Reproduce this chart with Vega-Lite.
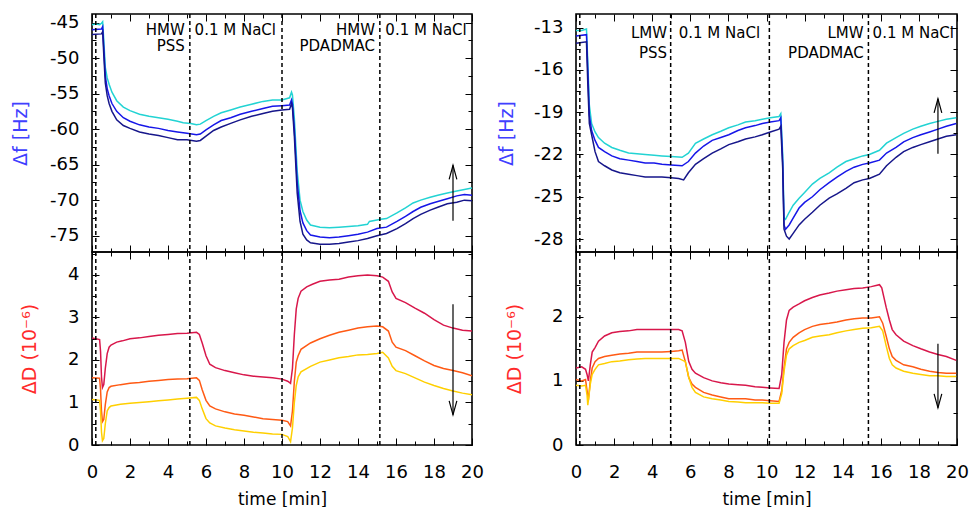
{
"$schema": "https://vega.github.io/schema/vega-lite/v6.json",
"background": "white",
"padding": {"left": 10, "top": 12, "right": 4, "bottom": 4},
"config": {
 "view": {"stroke": "black", "strokeWidth": 1.6},
 "font": "DejaVu Sans",
 "axis": {"domain": false, "grid": false, "tickColor": "black", "tickWidth": 1, "labelFont": "DejaVu Sans", "labelFontSize": 18, "labelColor": "black", "titleFont": "DejaVu Sans", "titleFontSize": 19, "titleFontWeight": "normal", "labelFlush": false, "labelOverlap": false}
},
"datasets": {
 "curves": [
{"p":"Hf","s":"f1","t":0,"v":-45.3},{"p":"Hf","s":"f1","t":0.2,"v":-45.2},{"p":"Hf","s":"f1","t":0.4,"v":-45.3},{"p":"Hf","s":"f1","t":0.5,"v":-45.1},{"p":"Hf","s":"f1","t":0.56,"v":-44.9},{"p":"Hf","s":"f1","t":0.62,"v":-47.5},{"p":"Hf","s":"f1","t":0.7,"v":-51.3},{"p":"Hf","s":"f1","t":0.8,"v":-52.8},{"p":"Hf","s":"f1","t":0.9,"v":-53.7},{"p":"Hf","s":"f1","t":1.05,"v":-54.8},{"p":"Hf","s":"f1","t":1.3,"v":-56.0},{"p":"Hf","s":"f1","t":1.65,"v":-56.9},{"p":"Hf","s":"f1","t":2.0,"v":-57.4},{"p":"Hf","s":"f1","t":2.5,"v":-57.9},{"p":"Hf","s":"f1","t":3.0,"v":-58.2},{"p":"Hf","s":"f1","t":3.5,"v":-58.4},{"p":"Hf","s":"f1","t":4.0,"v":-58.6},{"p":"Hf","s":"f1","t":4.5,"v":-58.9},{"p":"Hf","s":"f1","t":4.8,"v":-59.1},{"p":"Hf","s":"f1","t":5.2,"v":-59.2},{"p":"Hf","s":"f1","t":5.5,"v":-59.4},{"p":"Hf","s":"f1","t":5.7,"v":-59.3},{"p":"Hf","s":"f1","t":6.0,"v":-58.8},{"p":"Hf","s":"f1","t":6.4,"v":-58.2},{"p":"Hf","s":"f1","t":6.8,"v":-57.7},{"p":"Hf","s":"f1","t":7.3,"v":-57.3},{"p":"Hf","s":"f1","t":7.8,"v":-56.9},{"p":"Hf","s":"f1","t":8.4,"v":-56.5},{"p":"Hf","s":"f1","t":9.0,"v":-56.1},{"p":"Hf","s":"f1","t":9.5,"v":-55.9},{"p":"Hf","s":"f1","t":10.0,"v":-55.9},{"p":"Hf","s":"f1","t":10.4,"v":-55.6},{"p":"Hf","s":"f1","t":10.5,"v":-54.8},{"p":"Hf","s":"f1","t":10.55,"v":-55.2},{"p":"Hf","s":"f1","t":10.65,"v":-58.5},{"p":"Hf","s":"f1","t":10.8,"v":-65.9},{"p":"Hf","s":"f1","t":10.95,"v":-70.0},{"p":"Hf","s":"f1","t":11.1,"v":-71.6},{"p":"Hf","s":"f1","t":11.3,"v":-72.8},{"p":"Hf","s":"f1","t":11.5,"v":-73.5},{"p":"Hf","s":"f1","t":12.0,"v":-73.8},{"p":"Hf","s":"f1","t":12.5,"v":-73.9},{"p":"Hf","s":"f1","t":13.0,"v":-73.8},{"p":"Hf","s":"f1","t":13.5,"v":-73.7},{"p":"Hf","s":"f1","t":14.0,"v":-73.6},{"p":"Hf","s":"f1","t":14.5,"v":-73.4},{"p":"Hf","s":"f1","t":14.6,"v":-73.0},{"p":"Hf","s":"f1","t":15.2,"v":-72.7},{"p":"Hf","s":"f1","t":15.5,"v":-72.6},{"p":"Hf","s":"f1","t":16.05,"v":-71.8},{"p":"Hf","s":"f1","t":16.5,"v":-71.1},{"p":"Hf","s":"f1","t":16.9,"v":-70.4},{"p":"Hf","s":"f1","t":17.3,"v":-70.0},{"p":"Hf","s":"f1","t":17.8,"v":-69.6},{"p":"Hf","s":"f1","t":18.2,"v":-69.3},{"p":"Hf","s":"f1","t":18.7,"v":-69.0},{"p":"Hf","s":"f1","t":19.2,"v":-68.7},{"p":"Hf","s":"f1","t":19.6,"v":-68.5},{"p":"Hf","s":"f1","t":20,"v":-68.3},
{"p":"Hf","s":"f2","t":0,"v":-46.0},{"p":"Hf","s":"f2","t":0.5,"v":-45.9},{"p":"Hf","s":"f2","t":0.56,"v":-45.6},{"p":"Hf","s":"f2","t":0.62,"v":-48.5},{"p":"Hf","s":"f2","t":0.7,"v":-52.5},{"p":"Hf","s":"f2","t":0.8,"v":-54.3},{"p":"Hf","s":"f2","t":0.9,"v":-55.3},{"p":"Hf","s":"f2","t":1.05,"v":-56.4},{"p":"Hf","s":"f2","t":1.3,"v":-57.5},{"p":"Hf","s":"f2","t":1.65,"v":-58.4},{"p":"Hf","s":"f2","t":2.0,"v":-58.9},{"p":"Hf","s":"f2","t":2.5,"v":-59.4},{"p":"Hf","s":"f2","t":3.0,"v":-59.7},{"p":"Hf","s":"f2","t":3.5,"v":-59.9},{"p":"Hf","s":"f2","t":4.0,"v":-60.2},{"p":"Hf","s":"f2","t":4.5,"v":-60.4},{"p":"Hf","s":"f2","t":5.0,"v":-60.6},{"p":"Hf","s":"f2","t":5.5,"v":-60.8},{"p":"Hf","s":"f2","t":5.7,"v":-60.7},{"p":"Hf","s":"f2","t":6.0,"v":-60.1},{"p":"Hf","s":"f2","t":6.4,"v":-59.4},{"p":"Hf","s":"f2","t":6.8,"v":-58.8},{"p":"Hf","s":"f2","t":7.3,"v":-58.4},{"p":"Hf","s":"f2","t":7.8,"v":-57.9},{"p":"Hf","s":"f2","t":8.4,"v":-57.5},{"p":"Hf","s":"f2","t":9.0,"v":-57.1},{"p":"Hf","s":"f2","t":9.5,"v":-56.8},{"p":"Hf","s":"f2","t":10.0,"v":-56.7},{"p":"Hf","s":"f2","t":10.4,"v":-56.6},{"p":"Hf","s":"f2","t":10.5,"v":-55.9},{"p":"Hf","s":"f2","t":10.55,"v":-56.5},{"p":"Hf","s":"f2","t":10.65,"v":-60.0},{"p":"Hf","s":"f2","t":10.8,"v":-67.5},{"p":"Hf","s":"f2","t":10.95,"v":-71.5},{"p":"Hf","s":"f2","t":11.1,"v":-73.2},{"p":"Hf","s":"f2","t":11.3,"v":-74.3},{"p":"Hf","s":"f2","t":11.5,"v":-74.9},{"p":"Hf","s":"f2","t":12.0,"v":-75.2},{"p":"Hf","s":"f2","t":12.5,"v":-75.3},{"p":"Hf","s":"f2","t":13.0,"v":-75.2},{"p":"Hf","s":"f2","t":13.5,"v":-75.0},{"p":"Hf","s":"f2","t":14.0,"v":-74.8},{"p":"Hf","s":"f2","t":14.5,"v":-74.5},{"p":"Hf","s":"f2","t":15.0,"v":-74.0},{"p":"Hf","s":"f2","t":15.5,"v":-73.8},{"p":"Hf","s":"f2","t":16.05,"v":-73.0},{"p":"Hf","s":"f2","t":16.5,"v":-72.3},{"p":"Hf","s":"f2","t":16.9,"v":-71.6},{"p":"Hf","s":"f2","t":17.3,"v":-71.0},{"p":"Hf","s":"f2","t":17.8,"v":-70.5},{"p":"Hf","s":"f2","t":18.2,"v":-70.2},{"p":"Hf","s":"f2","t":18.7,"v":-69.8},{"p":"Hf","s":"f2","t":19.2,"v":-69.4},{"p":"Hf","s":"f2","t":19.6,"v":-69.2},{"p":"Hf","s":"f2","t":20,"v":-69.3},
{"p":"Hf","s":"f3","t":0,"v":-46.7},{"p":"Hf","s":"f3","t":0.5,"v":-46.6},{"p":"Hf","s":"f3","t":0.56,"v":-46.3},{"p":"Hf","s":"f3","t":0.62,"v":-49.5},{"p":"Hf","s":"f3","t":0.7,"v":-53.5},{"p":"Hf","s":"f3","t":0.8,"v":-55.3},{"p":"Hf","s":"f3","t":0.9,"v":-56.4},{"p":"Hf","s":"f3","t":1.05,"v":-57.5},{"p":"Hf","s":"f3","t":1.3,"v":-58.7},{"p":"Hf","s":"f3","t":1.65,"v":-59.5},{"p":"Hf","s":"f3","t":2.0,"v":-59.9},{"p":"Hf","s":"f3","t":2.5,"v":-60.4},{"p":"Hf","s":"f3","t":3.0,"v":-60.7},{"p":"Hf","s":"f3","t":3.5,"v":-60.9},{"p":"Hf","s":"f3","t":4.0,"v":-61.2},{"p":"Hf","s":"f3","t":4.5,"v":-61.5},{"p":"Hf","s":"f3","t":5.0,"v":-61.5},{"p":"Hf","s":"f3","t":5.5,"v":-61.7},{"p":"Hf","s":"f3","t":5.7,"v":-61.6},{"p":"Hf","s":"f3","t":6.0,"v":-61.0},{"p":"Hf","s":"f3","t":6.4,"v":-60.2},{"p":"Hf","s":"f3","t":6.8,"v":-59.7},{"p":"Hf","s":"f3","t":7.3,"v":-59.2},{"p":"Hf","s":"f3","t":7.8,"v":-58.7},{"p":"Hf","s":"f3","t":8.4,"v":-58.2},{"p":"Hf","s":"f3","t":9.0,"v":-57.8},{"p":"Hf","s":"f3","t":9.5,"v":-57.5},{"p":"Hf","s":"f3","t":10.0,"v":-57.3},{"p":"Hf","s":"f3","t":10.4,"v":-57.2},{"p":"Hf","s":"f3","t":10.5,"v":-56.4},{"p":"Hf","s":"f3","t":10.55,"v":-57.0},{"p":"Hf","s":"f3","t":10.65,"v":-61.0},{"p":"Hf","s":"f3","t":10.8,"v":-69.0},{"p":"Hf","s":"f3","t":10.95,"v":-73.0},{"p":"Hf","s":"f3","t":11.1,"v":-74.8},{"p":"Hf","s":"f3","t":11.3,"v":-75.6},{"p":"Hf","s":"f3","t":11.5,"v":-76.0},{"p":"Hf","s":"f3","t":12.0,"v":-76.2},{"p":"Hf","s":"f3","t":12.5,"v":-76.2},{"p":"Hf","s":"f3","t":13.0,"v":-76.1},{"p":"Hf","s":"f3","t":13.5,"v":-75.9},{"p":"Hf","s":"f3","t":14.0,"v":-75.7},{"p":"Hf","s":"f3","t":14.5,"v":-75.4},{"p":"Hf","s":"f3","t":15.0,"v":-75.0},{"p":"Hf","s":"f3","t":15.5,"v":-74.7},{"p":"Hf","s":"f3","t":16.05,"v":-74.0},{"p":"Hf","s":"f3","t":16.5,"v":-73.3},{"p":"Hf","s":"f3","t":16.9,"v":-72.6},{"p":"Hf","s":"f3","t":17.3,"v":-72.0},{"p":"Hf","s":"f3","t":17.8,"v":-71.4},{"p":"Hf","s":"f3","t":18.2,"v":-71.0},{"p":"Hf","s":"f3","t":18.7,"v":-70.5},{"p":"Hf","s":"f3","t":19.2,"v":-70.3},{"p":"Hf","s":"f3","t":19.6,"v":-70.0},{"p":"Hf","s":"f3","t":20,"v":-70.1},
{"p":"HD","s":"D1","t":0,"v":2.52},{"p":"HD","s":"D1","t":0.2,"v":2.5},{"p":"HD","s":"D1","t":0.4,"v":2.48},{"p":"HD","s":"D1","t":0.45,"v":2.2},{"p":"HD","s":"D1","t":0.5,"v":1.6},{"p":"HD","s":"D1","t":0.55,"v":1.35},{"p":"HD","s":"D1","t":0.62,"v":1.42},{"p":"HD","s":"D1","t":0.7,"v":1.8},{"p":"HD","s":"D1","t":0.8,"v":2.15},{"p":"HD","s":"D1","t":0.9,"v":2.3},{"p":"HD","s":"D1","t":1.0,"v":2.35},{"p":"HD","s":"D1","t":1.3,"v":2.42},{"p":"HD","s":"D1","t":1.6,"v":2.45},{"p":"HD","s":"D1","t":2.0,"v":2.5},{"p":"HD","s":"D1","t":2.5,"v":2.52},{"p":"HD","s":"D1","t":3.0,"v":2.55},{"p":"HD","s":"D1","t":3.5,"v":2.58},{"p":"HD","s":"D1","t":4.0,"v":2.6},{"p":"HD","s":"D1","t":4.5,"v":2.62},{"p":"HD","s":"D1","t":5.0,"v":2.63},{"p":"HD","s":"D1","t":5.5,"v":2.65},{"p":"HD","s":"D1","t":5.65,"v":2.6},{"p":"HD","s":"D1","t":5.8,"v":2.4},{"p":"HD","s":"D1","t":6.0,"v":2.1},{"p":"HD","s":"D1","t":6.2,"v":1.9},{"p":"HD","s":"D1","t":6.5,"v":1.82},{"p":"HD","s":"D1","t":7.0,"v":1.75},{"p":"HD","s":"D1","t":7.5,"v":1.7},{"p":"HD","s":"D1","t":8.0,"v":1.65},{"p":"HD","s":"D1","t":8.5,"v":1.62},{"p":"HD","s":"D1","t":9.0,"v":1.6},{"p":"HD","s":"D1","t":9.5,"v":1.58},{"p":"HD","s":"D1","t":10.0,"v":1.55},{"p":"HD","s":"D1","t":10.3,"v":1.5},{"p":"HD","s":"D1","t":10.45,"v":1.45},{"p":"HD","s":"D1","t":10.55,"v":1.8},{"p":"HD","s":"D1","t":10.65,"v":2.6},{"p":"HD","s":"D1","t":10.75,"v":3.2},{"p":"HD","s":"D1","t":10.85,"v":3.45},{"p":"HD","s":"D1","t":11.0,"v":3.62},{"p":"HD","s":"D1","t":11.3,"v":3.72},{"p":"HD","s":"D1","t":11.6,"v":3.78},{"p":"HD","s":"D1","t":12.0,"v":3.85},{"p":"HD","s":"D1","t":12.5,"v":3.88},{"p":"HD","s":"D1","t":13.0,"v":3.9},{"p":"HD","s":"D1","t":13.5,"v":3.95},{"p":"HD","s":"D1","t":14.0,"v":3.98},{"p":"HD","s":"D1","t":14.5,"v":4.0},{"p":"HD","s":"D1","t":15.0,"v":3.98},{"p":"HD","s":"D1","t":15.3,"v":3.95},{"p":"HD","s":"D1","t":15.6,"v":3.85},{"p":"HD","s":"D1","t":15.8,"v":3.6},{"p":"HD","s":"D1","t":16.0,"v":3.45},{"p":"HD","s":"D1","t":16.5,"v":3.35},{"p":"HD","s":"D1","t":17.0,"v":3.22},{"p":"HD","s":"D1","t":17.5,"v":3.1},{"p":"HD","s":"D1","t":18.0,"v":2.95},{"p":"HD","s":"D1","t":18.5,"v":2.82},{"p":"HD","s":"D1","t":19.0,"v":2.75},{"p":"HD","s":"D1","t":19.5,"v":2.7},{"p":"HD","s":"D1","t":20,"v":2.68},
{"p":"HD","s":"D2","t":0,"v":1.58},{"p":"HD","s":"D2","t":0.4,"v":1.57},{"p":"HD","s":"D2","t":0.45,"v":1.3},{"p":"HD","s":"D2","t":0.5,"v":0.8},{"p":"HD","s":"D2","t":0.55,"v":0.55},{"p":"HD","s":"D2","t":0.62,"v":0.6},{"p":"HD","s":"D2","t":0.7,"v":0.95},{"p":"HD","s":"D2","t":0.8,"v":1.25},{"p":"HD","s":"D2","t":0.9,"v":1.35},{"p":"HD","s":"D2","t":1.0,"v":1.38},{"p":"HD","s":"D2","t":1.5,"v":1.42},{"p":"HD","s":"D2","t":2.0,"v":1.45},{"p":"HD","s":"D2","t":2.5,"v":1.47},{"p":"HD","s":"D2","t":3.0,"v":1.5},{"p":"HD","s":"D2","t":3.5,"v":1.52},{"p":"HD","s":"D2","t":4.0,"v":1.54},{"p":"HD","s":"D2","t":4.5,"v":1.55},{"p":"HD","s":"D2","t":5.0,"v":1.56},{"p":"HD","s":"D2","t":5.5,"v":1.58},{"p":"HD","s":"D2","t":5.65,"v":1.52},{"p":"HD","s":"D2","t":5.8,"v":1.3},{"p":"HD","s":"D2","t":6.0,"v":1.05},{"p":"HD","s":"D2","t":6.2,"v":0.92},{"p":"HD","s":"D2","t":6.5,"v":0.85},{"p":"HD","s":"D2","t":7.0,"v":0.78},{"p":"HD","s":"D2","t":7.5,"v":0.73},{"p":"HD","s":"D2","t":8.0,"v":0.7},{"p":"HD","s":"D2","t":8.5,"v":0.66},{"p":"HD","s":"D2","t":9.0,"v":0.62},{"p":"HD","s":"D2","t":9.5,"v":0.6},{"p":"HD","s":"D2","t":10.0,"v":0.58},{"p":"HD","s":"D2","t":10.3,"v":0.55},{"p":"HD","s":"D2","t":10.45,"v":0.45},{"p":"HD","s":"D2","t":10.55,"v":0.8},{"p":"HD","s":"D2","t":10.65,"v":1.5},{"p":"HD","s":"D2","t":10.75,"v":1.95},{"p":"HD","s":"D2","t":10.85,"v":2.1},{"p":"HD","s":"D2","t":11.0,"v":2.25},{"p":"HD","s":"D2","t":11.5,"v":2.4},{"p":"HD","s":"D2","t":12.0,"v":2.5},{"p":"HD","s":"D2","t":12.5,"v":2.58},{"p":"HD","s":"D2","t":13.0,"v":2.65},{"p":"HD","s":"D2","t":13.5,"v":2.7},{"p":"HD","s":"D2","t":14.0,"v":2.75},{"p":"HD","s":"D2","t":14.5,"v":2.78},{"p":"HD","s":"D2","t":15.0,"v":2.8},{"p":"HD","s":"D2","t":15.3,"v":2.78},{"p":"HD","s":"D2","t":15.6,"v":2.68},{"p":"HD","s":"D2","t":15.8,"v":2.42},{"p":"HD","s":"D2","t":16.0,"v":2.3},{"p":"HD","s":"D2","t":16.5,"v":2.22},{"p":"HD","s":"D2","t":17.0,"v":2.1},{"p":"HD","s":"D2","t":17.5,"v":1.98},{"p":"HD","s":"D2","t":18.0,"v":1.87},{"p":"HD","s":"D2","t":18.5,"v":1.8},{"p":"HD","s":"D2","t":19.0,"v":1.75},{"p":"HD","s":"D2","t":19.5,"v":1.7},{"p":"HD","s":"D2","t":20,"v":1.63},
{"p":"HD","s":"D3","t":0,"v":1.07},{"p":"HD","s":"D3","t":0.4,"v":1.05},{"p":"HD","s":"D3","t":0.45,"v":0.8},{"p":"HD","s":"D3","t":0.5,"v":0.3},{"p":"HD","s":"D3","t":0.55,"v":0.1},{"p":"HD","s":"D3","t":0.62,"v":0.15},{"p":"HD","s":"D3","t":0.7,"v":0.5},{"p":"HD","s":"D3","t":0.8,"v":0.8},{"p":"HD","s":"D3","t":0.9,"v":0.88},{"p":"HD","s":"D3","t":1.0,"v":0.92},{"p":"HD","s":"D3","t":1.5,"v":0.96},{"p":"HD","s":"D3","t":2.0,"v":0.98},{"p":"HD","s":"D3","t":2.5,"v":1.0},{"p":"HD","s":"D3","t":3.0,"v":1.02},{"p":"HD","s":"D3","t":3.5,"v":1.04},{"p":"HD","s":"D3","t":4.0,"v":1.06},{"p":"HD","s":"D3","t":4.5,"v":1.08},{"p":"HD","s":"D3","t":5.0,"v":1.1},{"p":"HD","s":"D3","t":5.5,"v":1.12},{"p":"HD","s":"D3","t":5.65,"v":1.05},{"p":"HD","s":"D3","t":5.8,"v":0.85},{"p":"HD","s":"D3","t":6.0,"v":0.62},{"p":"HD","s":"D3","t":6.2,"v":0.52},{"p":"HD","s":"D3","t":6.5,"v":0.45},{"p":"HD","s":"D3","t":7.0,"v":0.4},{"p":"HD","s":"D3","t":7.5,"v":0.36},{"p":"HD","s":"D3","t":8.0,"v":0.33},{"p":"HD","s":"D3","t":8.5,"v":0.3},{"p":"HD","s":"D3","t":9.0,"v":0.28},{"p":"HD","s":"D3","t":9.5,"v":0.26},{"p":"HD","s":"D3","t":10.0,"v":0.25},{"p":"HD","s":"D3","t":10.3,"v":0.2},{"p":"HD","s":"D3","t":10.45,"v":0.08},{"p":"HD","s":"D3","t":10.55,"v":0.4},{"p":"HD","s":"D3","t":10.65,"v":1.0},{"p":"HD","s":"D3","t":10.75,"v":1.4},{"p":"HD","s":"D3","t":10.85,"v":1.6},{"p":"HD","s":"D3","t":11.0,"v":1.72},{"p":"HD","s":"D3","t":11.5,"v":1.85},{"p":"HD","s":"D3","t":12.0,"v":1.95},{"p":"HD","s":"D3","t":12.5,"v":2.0},{"p":"HD","s":"D3","t":13.0,"v":2.05},{"p":"HD","s":"D3","t":13.5,"v":2.08},{"p":"HD","s":"D3","t":14.0,"v":2.12},{"p":"HD","s":"D3","t":14.5,"v":2.13},{"p":"HD","s":"D3","t":15.0,"v":2.15},{"p":"HD","s":"D3","t":15.3,"v":2.18},{"p":"HD","s":"D3","t":15.6,"v":2.05},{"p":"HD","s":"D3","t":15.8,"v":1.85},{"p":"HD","s":"D3","t":16.0,"v":1.75},{"p":"HD","s":"D3","t":16.5,"v":1.68},{"p":"HD","s":"D3","t":17.0,"v":1.58},{"p":"HD","s":"D3","t":17.5,"v":1.48},{"p":"HD","s":"D3","t":18.0,"v":1.4},{"p":"HD","s":"D3","t":18.5,"v":1.33},{"p":"HD","s":"D3","t":19.0,"v":1.27},{"p":"HD","s":"D3","t":19.5,"v":1.22},{"p":"HD","s":"D3","t":20,"v":1.18},
{"p":"Lf","s":"f1","t":0,"v":-13.2},{"p":"Lf","s":"f1","t":0.3,"v":-13.2},{"p":"Lf","s":"f1","t":0.55,"v":-13.1},{"p":"Lf","s":"f1","t":0.62,"v":-15.5},{"p":"Lf","s":"f1","t":0.7,"v":-18.5},{"p":"Lf","s":"f1","t":0.82,"v":-19.8},{"p":"Lf","s":"f1","t":1.0,"v":-20.4},{"p":"Lf","s":"f1","t":1.18,"v":-20.8},{"p":"Lf","s":"f1","t":1.5,"v":-21.2},{"p":"Lf","s":"f1","t":1.88,"v":-21.5},{"p":"Lf","s":"f1","t":2.3,"v":-21.7},{"p":"Lf","s":"f1","t":2.76,"v":-21.9},{"p":"Lf","s":"f1","t":3.2,"v":-21.95},{"p":"Lf","s":"f1","t":3.63,"v":-22.0},{"p":"Lf","s":"f1","t":4.1,"v":-22.05},{"p":"Lf","s":"f1","t":4.51,"v":-22.1},{"p":"Lf","s":"f1","t":5.0,"v":-22.15},{"p":"Lf","s":"f1","t":5.57,"v":-22.2},{"p":"Lf","s":"f1","t":5.9,"v":-21.9},{"p":"Lf","s":"f1","t":6.27,"v":-21.2},{"p":"Lf","s":"f1","t":6.7,"v":-20.9},{"p":"Lf","s":"f1","t":7.15,"v":-20.6},{"p":"Lf","s":"f1","t":7.6,"v":-20.35},{"p":"Lf","s":"f1","t":8.02,"v":-20.1},{"p":"Lf","s":"f1","t":8.5,"v":-19.9},{"p":"Lf","s":"f1","t":8.9,"v":-19.7},{"p":"Lf","s":"f1","t":9.4,"v":-19.6},{"p":"Lf","s":"f1","t":9.78,"v":-19.5},{"p":"Lf","s":"f1","t":10.2,"v":-19.4},{"p":"Lf","s":"f1","t":10.66,"v":-19.3},{"p":"Lf","s":"f1","t":10.75,"v":-19.1},{"p":"Lf","s":"f1","t":10.85,"v":-22.0},{"p":"Lf","s":"f1","t":10.92,"v":-26.5},{"p":"Lf","s":"f1","t":11.0,"v":-26.6},{"p":"Lf","s":"f1","t":11.19,"v":-26.1},{"p":"Lf","s":"f1","t":11.4,"v":-25.6},{"p":"Lf","s":"f1","t":11.71,"v":-25.1},{"p":"Lf","s":"f1","t":12.0,"v":-24.7},{"p":"Lf","s":"f1","t":12.41,"v":-24.1},{"p":"Lf","s":"f1","t":12.8,"v":-23.7},{"p":"Lf","s":"f1","t":13.29,"v":-23.3},{"p":"Lf","s":"f1","t":13.7,"v":-22.9},{"p":"Lf","s":"f1","t":14.17,"v":-22.5},{"p":"Lf","s":"f1","t":14.6,"v":-22.3},{"p":"Lf","s":"f1","t":15.05,"v":-22.1},{"p":"Lf","s":"f1","t":15.4,"v":-22.0},{"p":"Lf","s":"f1","t":15.93,"v":-21.7},{"p":"Lf","s":"f1","t":16.3,"v":-21.2},{"p":"Lf","s":"f1","t":16.8,"v":-20.8},{"p":"Lf","s":"f1","t":17.2,"v":-20.5},{"p":"Lf","s":"f1","t":17.68,"v":-20.2},{"p":"Lf","s":"f1","t":18.1,"v":-20.0},{"p":"Lf","s":"f1","t":18.56,"v":-19.8},{"p":"Lf","s":"f1","t":19.0,"v":-19.65},{"p":"Lf","s":"f1","t":19.44,"v":-19.5},{"p":"Lf","s":"f1","t":19.96,"v":-19.4},
{"p":"Lf","s":"f2","t":0,"v":-13.6},{"p":"Lf","s":"f2","t":0.55,"v":-13.5},{"p":"Lf","s":"f2","t":0.62,"v":-16.0},{"p":"Lf","s":"f2","t":0.7,"v":-19.2},{"p":"Lf","s":"f2","t":0.82,"v":-20.3},{"p":"Lf","s":"f2","t":1.0,"v":-21.0},{"p":"Lf","s":"f2","t":1.18,"v":-21.5},{"p":"Lf","s":"f2","t":1.5,"v":-21.8},{"p":"Lf","s":"f2","t":1.88,"v":-22.1},{"p":"Lf","s":"f2","t":2.3,"v":-22.3},{"p":"Lf","s":"f2","t":2.76,"v":-22.4},{"p":"Lf","s":"f2","t":3.2,"v":-22.5},{"p":"Lf","s":"f2","t":3.63,"v":-22.6},{"p":"Lf","s":"f2","t":4.1,"v":-22.6},{"p":"Lf","s":"f2","t":4.51,"v":-22.7},{"p":"Lf","s":"f2","t":5.0,"v":-22.75},{"p":"Lf","s":"f2","t":5.57,"v":-22.8},{"p":"Lf","s":"f2","t":5.9,"v":-22.5},{"p":"Lf","s":"f2","t":6.27,"v":-21.9},{"p":"Lf","s":"f2","t":6.7,"v":-21.4},{"p":"Lf","s":"f2","t":7.15,"v":-21.0},{"p":"Lf","s":"f2","t":7.6,"v":-20.8},{"p":"Lf","s":"f2","t":8.02,"v":-20.6},{"p":"Lf","s":"f2","t":8.5,"v":-20.3},{"p":"Lf","s":"f2","t":8.9,"v":-20.1},{"p":"Lf","s":"f2","t":9.4,"v":-19.95},{"p":"Lf","s":"f2","t":9.78,"v":-19.8},{"p":"Lf","s":"f2","t":10.2,"v":-19.7},{"p":"Lf","s":"f2","t":10.66,"v":-19.6},{"p":"Lf","s":"f2","t":10.75,"v":-19.4},{"p":"Lf","s":"f2","t":10.85,"v":-22.5},{"p":"Lf","s":"f2","t":10.92,"v":-27.0},{"p":"Lf","s":"f2","t":11.0,"v":-27.3},{"p":"Lf","s":"f2","t":11.19,"v":-27.0},{"p":"Lf","s":"f2","t":11.36,"v":-26.6},{"p":"Lf","s":"f2","t":11.71,"v":-25.8},{"p":"Lf","s":"f2","t":12.0,"v":-25.4},{"p":"Lf","s":"f2","t":12.41,"v":-25.0},{"p":"Lf","s":"f2","t":12.8,"v":-24.5},{"p":"Lf","s":"f2","t":13.29,"v":-24.0},{"p":"Lf","s":"f2","t":13.7,"v":-23.6},{"p":"Lf","s":"f2","t":14.17,"v":-23.2},{"p":"Lf","s":"f2","t":14.6,"v":-22.9},{"p":"Lf","s":"f2","t":15.05,"v":-22.7},{"p":"Lf","s":"f2","t":15.4,"v":-22.6},{"p":"Lf","s":"f2","t":15.93,"v":-22.4},{"p":"Lf","s":"f2","t":16.3,"v":-21.9},{"p":"Lf","s":"f2","t":16.8,"v":-21.5},{"p":"Lf","s":"f2","t":17.2,"v":-21.1},{"p":"Lf","s":"f2","t":17.68,"v":-20.8},{"p":"Lf","s":"f2","t":18.1,"v":-20.6},{"p":"Lf","s":"f2","t":18.56,"v":-20.4},{"p":"Lf","s":"f2","t":19.0,"v":-20.2},{"p":"Lf","s":"f2","t":19.44,"v":-20.0},{"p":"Lf","s":"f2","t":19.96,"v":-19.8},
{"p":"Lf","s":"f3","t":0,"v":-14.1},{"p":"Lf","s":"f3","t":0.55,"v":-14.0},{"p":"Lf","s":"f3","t":0.62,"v":-17.0},{"p":"Lf","s":"f3","t":0.7,"v":-19.8},{"p":"Lf","s":"f3","t":0.82,"v":-20.6},{"p":"Lf","s":"f3","t":1.0,"v":-21.8},{"p":"Lf","s":"f3","t":1.18,"v":-22.5},{"p":"Lf","s":"f3","t":1.5,"v":-22.8},{"p":"Lf","s":"f3","t":1.88,"v":-23.1},{"p":"Lf","s":"f3","t":2.3,"v":-23.3},{"p":"Lf","s":"f3","t":2.76,"v":-23.4},{"p":"Lf","s":"f3","t":3.2,"v":-23.5},{"p":"Lf","s":"f3","t":3.63,"v":-23.6},{"p":"Lf","s":"f3","t":4.1,"v":-23.6},{"p":"Lf","s":"f3","t":4.51,"v":-23.6},{"p":"Lf","s":"f3","t":5.0,"v":-23.65},{"p":"Lf","s":"f3","t":5.39,"v":-23.7},{"p":"Lf","s":"f3","t":5.65,"v":-23.8},{"p":"Lf","s":"f3","t":5.9,"v":-23.3},{"p":"Lf","s":"f3","t":6.27,"v":-22.7},{"p":"Lf","s":"f3","t":6.7,"v":-22.3},{"p":"Lf","s":"f3","t":7.15,"v":-21.9},{"p":"Lf","s":"f3","t":7.6,"v":-21.6},{"p":"Lf","s":"f3","t":8.02,"v":-21.3},{"p":"Lf","s":"f3","t":8.5,"v":-21.1},{"p":"Lf","s":"f3","t":8.9,"v":-20.9},{"p":"Lf","s":"f3","t":9.4,"v":-20.75},{"p":"Lf","s":"f3","t":9.78,"v":-20.6},{"p":"Lf","s":"f3","t":10.2,"v":-20.4},{"p":"Lf","s":"f3","t":10.66,"v":-20.2},{"p":"Lf","s":"f3","t":10.75,"v":-20.0},{"p":"Lf","s":"f3","t":10.85,"v":-23.0},{"p":"Lf","s":"f3","t":10.92,"v":-27.3},{"p":"Lf","s":"f3","t":11.05,"v":-27.8},{"p":"Lf","s":"f3","t":11.19,"v":-28.0},{"p":"Lf","s":"f3","t":11.4,"v":-27.6},{"p":"Lf","s":"f3","t":11.71,"v":-27.0},{"p":"Lf","s":"f3","t":12.0,"v":-26.6},{"p":"Lf","s":"f3","t":12.41,"v":-26.1},{"p":"Lf","s":"f3","t":12.8,"v":-25.6},{"p":"Lf","s":"f3","t":13.29,"v":-25.1},{"p":"Lf","s":"f3","t":13.7,"v":-24.8},{"p":"Lf","s":"f3","t":14.17,"v":-24.4},{"p":"Lf","s":"f3","t":14.6,"v":-24.0},{"p":"Lf","s":"f3","t":15.05,"v":-23.8},{"p":"Lf","s":"f3","t":15.4,"v":-23.7},{"p":"Lf","s":"f3","t":15.93,"v":-23.4},{"p":"Lf","s":"f3","t":16.3,"v":-22.8},{"p":"Lf","s":"f3","t":16.8,"v":-22.2},{"p":"Lf","s":"f3","t":17.2,"v":-21.8},{"p":"Lf","s":"f3","t":17.68,"v":-21.5},{"p":"Lf","s":"f3","t":18.1,"v":-21.3},{"p":"Lf","s":"f3","t":18.56,"v":-21.1},{"p":"Lf","s":"f3","t":19.0,"v":-20.9},{"p":"Lf","s":"f3","t":19.44,"v":-20.7},{"p":"Lf","s":"f3","t":19.96,"v":-20.6},
{"p":"LD","s":"D1","t":0,"v":1.2},{"p":"LD","s":"D1","t":0.3,"v":1.22},{"p":"LD","s":"D1","t":0.5,"v":1.18},{"p":"LD","s":"D1","t":0.58,"v":1.1},{"p":"LD","s":"D1","t":0.65,"v":1.0},{"p":"LD","s":"D1","t":0.75,"v":1.25},{"p":"LD","s":"D1","t":0.85,"v":1.45},{"p":"LD","s":"D1","t":1.0,"v":1.52},{"p":"LD","s":"D1","t":1.18,"v":1.62},{"p":"LD","s":"D1","t":1.5,"v":1.7},{"p":"LD","s":"D1","t":1.88,"v":1.75},{"p":"LD","s":"D1","t":2.3,"v":1.77},{"p":"LD","s":"D1","t":2.76,"v":1.78},{"p":"LD","s":"D1","t":3.2,"v":1.8},{"p":"LD","s":"D1","t":3.63,"v":1.8},{"p":"LD","s":"D1","t":4.1,"v":1.8},{"p":"LD","s":"D1","t":4.51,"v":1.8},{"p":"LD","s":"D1","t":5.0,"v":1.8},{"p":"LD","s":"D1","t":5.39,"v":1.8},{"p":"LD","s":"D1","t":5.57,"v":1.78},{"p":"LD","s":"D1","t":5.74,"v":1.6},{"p":"LD","s":"D1","t":5.92,"v":1.3},{"p":"LD","s":"D1","t":6.09,"v":1.18},{"p":"LD","s":"D1","t":6.27,"v":1.12},{"p":"LD","s":"D1","t":6.7,"v":1.05},{"p":"LD","s":"D1","t":7.15,"v":1.0},{"p":"LD","s":"D1","t":7.6,"v":0.97},{"p":"LD","s":"D1","t":8.02,"v":0.95},{"p":"LD","s":"D1","t":8.5,"v":0.94},{"p":"LD","s":"D1","t":8.9,"v":0.93},{"p":"LD","s":"D1","t":9.4,"v":0.91},{"p":"LD","s":"D1","t":9.78,"v":0.9},{"p":"LD","s":"D1","t":10.2,"v":0.89},{"p":"LD","s":"D1","t":10.66,"v":0.88},{"p":"LD","s":"D1","t":10.8,"v":1.1},{"p":"LD","s":"D1","t":10.92,"v":1.6},{"p":"LD","s":"D1","t":11.05,"v":1.95},{"p":"LD","s":"D1","t":11.19,"v":2.1},{"p":"LD","s":"D1","t":11.4,"v":2.15},{"p":"LD","s":"D1","t":11.71,"v":2.2},{"p":"LD","s":"D1","t":12.0,"v":2.25},{"p":"LD","s":"D1","t":12.41,"v":2.3},{"p":"LD","s":"D1","t":12.8,"v":2.34},{"p":"LD","s":"D1","t":13.29,"v":2.37},{"p":"LD","s":"D1","t":13.7,"v":2.4},{"p":"LD","s":"D1","t":14.17,"v":2.42},{"p":"LD","s":"D1","t":14.6,"v":2.44},{"p":"LD","s":"D1","t":15.05,"v":2.45},{"p":"LD","s":"D1","t":15.5,"v":2.47},{"p":"LD","s":"D1","t":15.93,"v":2.5},{"p":"LD","s":"D1","t":16.05,"v":2.45},{"p":"LD","s":"D1","t":16.28,"v":2.15},{"p":"LD","s":"D1","t":16.45,"v":1.95},{"p":"LD","s":"D1","t":16.6,"v":1.8},{"p":"LD","s":"D1","t":16.8,"v":1.72},{"p":"LD","s":"D1","t":17.2,"v":1.62},{"p":"LD","s":"D1","t":17.68,"v":1.55},{"p":"LD","s":"D1","t":18.1,"v":1.5},{"p":"LD","s":"D1","t":18.56,"v":1.45},{"p":"LD","s":"D1","t":19.0,"v":1.41},{"p":"LD","s":"D1","t":19.44,"v":1.38},{"p":"LD","s":"D1","t":19.96,"v":1.32},
{"p":"LD","s":"D2","t":0,"v":1.02},{"p":"LD","s":"D2","t":0.3,"v":1.0},{"p":"LD","s":"D2","t":0.5,"v":1.02},{"p":"LD","s":"D2","t":0.58,"v":0.85},{"p":"LD","s":"D2","t":0.65,"v":0.7},{"p":"LD","s":"D2","t":0.75,"v":1.0},{"p":"LD","s":"D2","t":0.85,"v":1.2},{"p":"LD","s":"D2","t":1.0,"v":1.3},{"p":"LD","s":"D2","t":1.18,"v":1.35},{"p":"LD","s":"D2","t":1.5,"v":1.38},{"p":"LD","s":"D2","t":1.88,"v":1.4},{"p":"LD","s":"D2","t":2.3,"v":1.42},{"p":"LD","s":"D2","t":2.76,"v":1.43},{"p":"LD","s":"D2","t":3.2,"v":1.45},{"p":"LD","s":"D2","t":3.63,"v":1.45},{"p":"LD","s":"D2","t":4.1,"v":1.45},{"p":"LD","s":"D2","t":4.51,"v":1.45},{"p":"LD","s":"D2","t":5.0,"v":1.46},{"p":"LD","s":"D2","t":5.39,"v":1.47},{"p":"LD","s":"D2","t":5.57,"v":1.48},{"p":"LD","s":"D2","t":5.74,"v":1.3},{"p":"LD","s":"D2","t":5.92,"v":1.05},{"p":"LD","s":"D2","t":6.09,"v":0.95},{"p":"LD","s":"D2","t":6.27,"v":0.9},{"p":"LD","s":"D2","t":6.7,"v":0.82},{"p":"LD","s":"D2","t":7.15,"v":0.78},{"p":"LD","s":"D2","t":7.6,"v":0.75},{"p":"LD","s":"D2","t":8.02,"v":0.72},{"p":"LD","s":"D2","t":8.5,"v":0.72},{"p":"LD","s":"D2","t":8.9,"v":0.72},{"p":"LD","s":"D2","t":9.4,"v":0.7},{"p":"LD","s":"D2","t":9.78,"v":0.7},{"p":"LD","s":"D2","t":10.2,"v":0.69},{"p":"LD","s":"D2","t":10.66,"v":0.68},{"p":"LD","s":"D2","t":10.8,"v":0.85},{"p":"LD","s":"D2","t":10.92,"v":1.2},{"p":"LD","s":"D2","t":11.05,"v":1.5},{"p":"LD","s":"D2","t":11.19,"v":1.6},{"p":"LD","s":"D2","t":11.4,"v":1.68},{"p":"LD","s":"D2","t":11.71,"v":1.75},{"p":"LD","s":"D2","t":12.0,"v":1.8},{"p":"LD","s":"D2","t":12.41,"v":1.85},{"p":"LD","s":"D2","t":12.8,"v":1.88},{"p":"LD","s":"D2","t":13.29,"v":1.9},{"p":"LD","s":"D2","t":13.7,"v":1.92},{"p":"LD","s":"D2","t":14.17,"v":1.95},{"p":"LD","s":"D2","t":14.6,"v":1.97},{"p":"LD","s":"D2","t":15.05,"v":1.98},{"p":"LD","s":"D2","t":15.5,"v":1.98},{"p":"LD","s":"D2","t":15.93,"v":2.0},{"p":"LD","s":"D2","t":16.1,"v":1.9},{"p":"LD","s":"D2","t":16.28,"v":1.7},{"p":"LD","s":"D2","t":16.45,"v":1.5},{"p":"LD","s":"D2","t":16.6,"v":1.38},{"p":"LD","s":"D2","t":16.8,"v":1.32},{"p":"LD","s":"D2","t":17.2,"v":1.25},{"p":"LD","s":"D2","t":17.68,"v":1.22},{"p":"LD","s":"D2","t":18.1,"v":1.18},{"p":"LD","s":"D2","t":18.56,"v":1.15},{"p":"LD","s":"D2","t":19.0,"v":1.13},{"p":"LD","s":"D2","t":19.44,"v":1.12},{"p":"LD","s":"D2","t":19.96,"v":1.12},
{"p":"LD","s":"D3","t":0,"v":0.93},{"p":"LD","s":"D3","t":0.3,"v":0.92},{"p":"LD","s":"D3","t":0.5,"v":0.93},{"p":"LD","s":"D3","t":0.58,"v":0.78},{"p":"LD","s":"D3","t":0.62,"v":0.62},{"p":"LD","s":"D3","t":0.75,"v":0.95},{"p":"LD","s":"D3","t":0.85,"v":1.1},{"p":"LD","s":"D3","t":1.0,"v":1.18},{"p":"LD","s":"D3","t":1.18,"v":1.25},{"p":"LD","s":"D3","t":1.5,"v":1.27},{"p":"LD","s":"D3","t":1.88,"v":1.3},{"p":"LD","s":"D3","t":2.3,"v":1.31},{"p":"LD","s":"D3","t":2.76,"v":1.33},{"p":"LD","s":"D3","t":3.2,"v":1.34},{"p":"LD","s":"D3","t":3.63,"v":1.35},{"p":"LD","s":"D3","t":4.1,"v":1.35},{"p":"LD","s":"D3","t":4.51,"v":1.35},{"p":"LD","s":"D3","t":5.0,"v":1.35},{"p":"LD","s":"D3","t":5.39,"v":1.35},{"p":"LD","s":"D3","t":5.74,"v":1.3},{"p":"LD","s":"D3","t":5.92,"v":1.05},{"p":"LD","s":"D3","t":6.09,"v":0.9},{"p":"LD","s":"D3","t":6.27,"v":0.82},{"p":"LD","s":"D3","t":6.7,"v":0.75},{"p":"LD","s":"D3","t":7.15,"v":0.72},{"p":"LD","s":"D3","t":7.6,"v":0.7},{"p":"LD","s":"D3","t":8.02,"v":0.68},{"p":"LD","s":"D3","t":8.5,"v":0.67},{"p":"LD","s":"D3","t":8.9,"v":0.66},{"p":"LD","s":"D3","t":9.4,"v":0.66},{"p":"LD","s":"D3","t":9.78,"v":0.66},{"p":"LD","s":"D3","t":10.2,"v":0.65},{"p":"LD","s":"D3","t":10.66,"v":0.65},{"p":"LD","s":"D3","t":10.8,"v":0.8},{"p":"LD","s":"D3","t":10.92,"v":1.15},{"p":"LD","s":"D3","t":11.05,"v":1.4},{"p":"LD","s":"D3","t":11.19,"v":1.5},{"p":"LD","s":"D3","t":11.4,"v":1.55},{"p":"LD","s":"D3","t":11.71,"v":1.6},{"p":"LD","s":"D3","t":12.0,"v":1.63},{"p":"LD","s":"D3","t":12.41,"v":1.68},{"p":"LD","s":"D3","t":12.8,"v":1.7},{"p":"LD","s":"D3","t":13.29,"v":1.72},{"p":"LD","s":"D3","t":13.7,"v":1.75},{"p":"LD","s":"D3","t":14.17,"v":1.78},{"p":"LD","s":"D3","t":14.6,"v":1.8},{"p":"LD","s":"D3","t":15.05,"v":1.82},{"p":"LD","s":"D3","t":15.5,"v":1.83},{"p":"LD","s":"D3","t":15.93,"v":1.85},{"p":"LD","s":"D3","t":16.1,"v":1.78},{"p":"LD","s":"D3","t":16.28,"v":1.55},{"p":"LD","s":"D3","t":16.45,"v":1.35},{"p":"LD","s":"D3","t":16.6,"v":1.25},{"p":"LD","s":"D3","t":16.8,"v":1.2},{"p":"LD","s":"D3","t":17.2,"v":1.15},{"p":"LD","s":"D3","t":17.68,"v":1.12},{"p":"LD","s":"D3","t":18.1,"v":1.1},{"p":"LD","s":"D3","t":18.56,"v":1.08},{"p":"LD","s":"D3","t":19.0,"v":1.08},{"p":"LD","s":"D3","t":19.44,"v":1.07},{"p":"LD","s":"D3","t":19.96,"v":1.07}
 ],
 "vlines": [
  {"c":"H","t":0.2},{"c":"H","t":5.15},{"c":"H","t":10.0},{"c":"H","t":15.15},
  {"c":"L","t":0.2},{"c":"L","t":4.97},{"c":"L","t":10.15},{"c":"L","t":15.35}
 ],
 "notes": [
  {"p":"Hf","side":"before","t":4.88,"v":-46.0,"label":"HMW"},
  {"p":"Hf","side":"before","t":4.88,"v":-48.3,"label":"PSS"},
  {"p":"Hf","side":"after","t":5.4,"v":-46.0,"label":"0.1 M NaCl"},
  {"p":"Hf","side":"before","t":14.9,"v":-46.0,"label":"HMW"},
  {"p":"Hf","side":"before","t":14.9,"v":-48.3,"label":"PDADMAC"},
  {"p":"Hf","side":"after","t":15.44,"v":-46.0,"label":"0.1 M NaCl"},
  {"p":"Lf","side":"before","t":4.78,"v":-13.35,"label":"LMW"},
  {"p":"Lf","side":"before","t":4.78,"v":-14.77,"label":"PSS"},
  {"p":"Lf","side":"after","t":5.39,"v":-13.35,"label":"0.1 M NaCl"},
  {"p":"Lf","side":"before","t":15.1,"v":-13.35,"label":"LMW"},
  {"p":"Lf","side":"before","t":15.1,"v":-14.77,"label":"PDADMAC"},
  {"p":"Lf","side":"after","t":15.57,"v":-13.35,"label":"0.1 M NaCl"}
 ],
 "arrows": [
  {"p":"Hf","t":19.0,"v1":-72.9,"v2":-65.1,"dir":"up"},
  {"p":"HD","t":19.0,"v1":3.31,"v2":0.71,"dir":"down"},
  {"p":"Lf","t":19.0,"v1":-21.95,"v2":-18.05,"dir":"up"},
  {"p":"LD","t":19.0,"v1":1.58,"v2":0.58,"dir":"down"}
 ]
},
"columns": 2,
"spacing": {"row": 0, "column": 104},
"bounds": "flush",
"concat": [
 {
  "width": 380, "height": 238,
  "layer": [
   {"data": {"name": "curves"}, "transform": [{"filter": "datum.p === 'Hf'"}],
    "mark": {"type": "line", "strokeWidth": 1.5, "clip": true},
    "encoding": {
     "x": {"field": "t", "type": "quantitative", "scale": {"domain": [0, 20], "nice": false}, "axis": {"orient": "bottom", "values": [0,1,2,3,4,5,6,7,8,9,10,11,12,13,14,15,16,17,18,19,20], "labels": false, "title": null, "tickSize": {"condition": {"test": "datum.value % 2 === 0", "value": -7}, "value": -4}}},
     "y": {"field": "v", "type": "quantitative", "scale": {"domain": [-77.3, -43.8], "nice": false, "zero": false}, "axis": {"orient": "left", "values": [-75,-72.5,-70,-67.5,-65,-62.5,-60,-57.5,-55,-52.5,-50,-47.5,-45], "labelExpr": "datum.value % 5 === 0 ? '' + datum.value : ''", "labelPadding": 20, "title": "Δf [Hz]", "titleColor": "#4040ff", "titleX": -72, "titleBaseline": "middle", "tickSize": {"condition": {"test": "datum.value % 5 === 0", "value": -7}, "value": -4}}},
     "color": {"field": "s", "type": "nominal", "scale": {"domain": ["f1","f2","f3","D1","D2","D3"], "range": ["#22d3d3","#1616e8","#16168a","#d8174b","#ff5a14","#ffcf00"]}, "legend": null}
    }},
   {"data": {"name": "vlines"}, "transform": [{"filter": "datum.c === 'H'"}],
    "mark": {"type": "rule", "strokeDash": [4, 3], "strokeWidth": 1.5, "color": "black"},
    "encoding": {"x": {"field": "t", "type": "quantitative", "scale": {"domain": [0, 20], "nice": false}, "axis": {"orient": "top", "values": [0,1,2,3,4,5,6,7,8,9,10,11,12,13,14,15,16,17,18,19,20], "labels": false, "title": null, "tickSize": {"condition": {"test": "datum.value % 2 === 0", "value": -7}, "value": -4}}}}},
   {"data": {"name": "arrows"}, "transform": [{"filter": "datum.p === 'Hf'"}],
    "mark": {"type": "rule", "strokeWidth": 1.2, "color": "black"},
    "encoding": {"x": {"field": "t", "type": "quantitative", "scale": {"domain": [0, 20], "nice": false}, "axis": null},
     "y": {"field": "v1", "type": "quantitative", "scale": {"domain": [-77.3, -43.8], "nice": false, "zero": false}, "axis": {"orient": "right", "values": [-75,-72.5,-70,-67.5,-65,-62.5,-60,-57.5,-55,-52.5,-50,-47.5,-45], "labels": false, "title": null, "tickSize": {"condition": {"test": "datum.value % 5 === 0", "value": -7}, "value": -4}}},
     "y2": {"field": "v2"}}},
   {"data": {"name": "arrows"}, "transform": [{"filter": "datum.p === 'Hf'"}],
    "mark": {"type": "point", "filled": false, "color": "black", "strokeWidth": 1.2, "size": 196, "opacity": 1},
    "encoding": {"x": {"field": "t", "type": "quantitative", "scale": {"domain": [0, 20], "nice": false}, "axis": null},
     "y": {"field": "v2", "type": "quantitative", "scale": {"domain": [-77.3, -43.8], "nice": false, "zero": false}, "axis": null},
     "shape": {"field": "dir", "type": "nominal", "scale": {"domain": ["up","down"], "range": ["M-0.55,2L0,0L0.55,2", "M-0.55,-2L0,0L0.55,-2"]}, "legend": null}}},
   {"data": {"name": "notes"}, "transform": [{"filter": "datum.p === 'Hf' && datum.side === 'before'"}],
    "mark": {"type": "text", "fontSize": 15, "font": "DejaVu Sans", "align": "right", "baseline": "middle", "color": "black"},
    "encoding": {"x": {"field": "t", "type": "quantitative", "scale": {"domain": [0, 20], "nice": false}, "axis": null},
     "y": {"field": "v", "type": "quantitative", "scale": {"domain": [-77.3, -43.8], "nice": false, "zero": false}, "axis": null},
     "text": {"field": "label"}}},
   {"data": {"name": "notes"}, "transform": [{"filter": "datum.p === 'Hf' && datum.side === 'after'"}],
    "mark": {"type": "text", "fontSize": 15, "font": "DejaVu Sans", "align": "left", "baseline": "middle", "color": "black"},
    "encoding": {"x": {"field": "t", "type": "quantitative", "scale": {"domain": [0, 20], "nice": false}, "axis": null},
     "y": {"field": "v", "type": "quantitative", "scale": {"domain": [-77.3, -43.8], "nice": false, "zero": false}, "axis": null},
     "text": {"field": "label"}}}
  ],
  "resolve": {"axis": {"x": "independent", "y": "independent"}}
 },
 {
  "width": 381, "height": 238,
  "layer": [
   {"data": {"name": "curves"}, "transform": [{"filter": "datum.p === 'Lf'"}],
    "mark": {"type": "line", "strokeWidth": 1.5, "clip": true},
    "encoding": {
     "x": {"field": "t", "type": "quantitative", "scale": {"domain": [0, 20], "nice": false}, "axis": {"orient": "bottom", "values": [0,1,2,3,4,5,6,7,8,9,10,11,12,13,14,15,16,17,18,19,20], "labels": false, "title": null, "tickSize": {"condition": {"test": "datum.value % 2 === 0", "value": -7}, "value": -4}}},
     "y": {"field": "v", "type": "quantitative", "scale": {"domain": [-28.92, -12.03], "nice": false, "zero": false}, "axis": {"orient": "left", "values": [-28,-26.5,-25,-23.5,-22,-20.5,-19,-17.5,-16,-14.5,-13], "labelExpr": "(datum.value + 28) % 3 === 0 ? '' + datum.value : ''", "labelPadding": 20, "title": "Δf [Hz]", "titleColor": "#4040ff", "titleX": -70, "titleBaseline": "middle", "tickSize": {"condition": {"test": "(datum.value + 28) % 3 === 0", "value": -7}, "value": -4}}},
     "color": {"field": "s", "type": "nominal", "scale": {"domain": ["f1","f2","f3","D1","D2","D3"], "range": ["#22d3d3","#1616e8","#16168a","#d8174b","#ff5a14","#ffcf00"]}, "legend": null}
    }},
   {"data": {"name": "vlines"}, "transform": [{"filter": "datum.c === 'L'"}],
    "mark": {"type": "rule", "strokeDash": [4, 3], "strokeWidth": 1.5, "color": "black"},
    "encoding": {"x": {"field": "t", "type": "quantitative", "scale": {"domain": [0, 20], "nice": false}, "axis": {"orient": "top", "values": [0,1,2,3,4,5,6,7,8,9,10,11,12,13,14,15,16,17,18,19,20], "labels": false, "title": null, "tickSize": {"condition": {"test": "datum.value % 2 === 0", "value": -7}, "value": -4}}}}},
   {"data": {"name": "arrows"}, "transform": [{"filter": "datum.p === 'Lf'"}],
    "mark": {"type": "rule", "strokeWidth": 1.2, "color": "black"},
    "encoding": {"x": {"field": "t", "type": "quantitative", "scale": {"domain": [0, 20], "nice": false}, "axis": null},
     "y": {"field": "v1", "type": "quantitative", "scale": {"domain": [-28.92, -12.03], "nice": false, "zero": false}, "axis": {"orient": "right", "values": [-28,-26.5,-25,-23.5,-22,-20.5,-19,-17.5,-16,-14.5,-13], "labels": false, "title": null, "tickSize": {"condition": {"test": "(datum.value + 28) % 3 === 0", "value": -7}, "value": -4}}},
     "y2": {"field": "v2"}}},
   {"data": {"name": "arrows"}, "transform": [{"filter": "datum.p === 'Lf'"}],
    "mark": {"type": "point", "filled": false, "color": "black", "strokeWidth": 1.2, "size": 196, "opacity": 1},
    "encoding": {"x": {"field": "t", "type": "quantitative", "scale": {"domain": [0, 20], "nice": false}, "axis": null},
     "y": {"field": "v2", "type": "quantitative", "scale": {"domain": [-28.92, -12.03], "nice": false, "zero": false}, "axis": null},
     "shape": {"field": "dir", "type": "nominal", "scale": {"domain": ["up","down"], "range": ["M-0.55,2L0,0L0.55,2", "M-0.55,-2L0,0L0.55,-2"]}, "legend": null}}},
   {"data": {"name": "notes"}, "transform": [{"filter": "datum.p === 'Lf' && datum.side === 'before'"}],
    "mark": {"type": "text", "fontSize": 15, "font": "DejaVu Sans", "align": "right", "baseline": "middle", "color": "black"},
    "encoding": {"x": {"field": "t", "type": "quantitative", "scale": {"domain": [0, 20], "nice": false}, "axis": null},
     "y": {"field": "v", "type": "quantitative", "scale": {"domain": [-28.92, -12.03], "nice": false, "zero": false}, "axis": null},
     "text": {"field": "label"}}},
   {"data": {"name": "notes"}, "transform": [{"filter": "datum.p === 'Lf' && datum.side === 'after'"}],
    "mark": {"type": "text", "fontSize": 15, "font": "DejaVu Sans", "align": "left", "baseline": "middle", "color": "black"},
    "encoding": {"x": {"field": "t", "type": "quantitative", "scale": {"domain": [0, 20], "nice": false}, "axis": null},
     "y": {"field": "v", "type": "quantitative", "scale": {"domain": [-28.92, -12.03], "nice": false, "zero": false}, "axis": null},
     "text": {"field": "label"}}}
  ],
  "resolve": {"axis": {"x": "independent", "y": "independent"}}
 },
 {
  "width": 380, "height": 193,
  "layer": [
   {"data": {"name": "curves"}, "transform": [{"filter": "datum.p === 'HD'"}],
    "mark": {"type": "line", "strokeWidth": 1.5, "clip": true},
    "encoding": {
     "x": {"field": "t", "type": "quantitative", "scale": {"domain": [0, 20], "nice": false}, "axis": {"orient": "bottom", "values": [0,1,2,3,4,5,6,7,8,9,10,11,12,13,14,15,16,17,18,19,20], "labelExpr": "datum.value % 2 === 0 ? '' + datum.value : ''", "labelPadding": 25, "title": "time [min]", "titleFontSize": 17, "titleColor": "black", "titlePadding": 7, "tickSize": {"condition": {"test": "datum.value % 2 === 0", "value": -7}, "value": -4}}},
     "y": {"field": "v", "type": "quantitative", "scale": {"domain": [0, 4.54], "nice": false, "zero": false}, "axis": {"orient": "left", "values": [0,0.5,1,1.5,2,2.5,3,3.5,4,4.5], "labelExpr": "datum.value % 1 === 0 ? '' + datum.value : ''", "labelPadding": 20, "title": "ΔD (10⁻⁶)", "titleColor": "#ff2a2a", "titleX": -63, "titleBaseline": "middle", "tickSize": {"condition": {"test": "datum.value % 1 === 0", "value": -7}, "value": -4}}},
     "color": {"field": "s", "type": "nominal", "scale": {"domain": ["f1","f2","f3","D1","D2","D3"], "range": ["#22d3d3","#1616e8","#16168a","#d8174b","#ff5a14","#ffcf00"]}, "legend": null}
    }},
   {"data": {"name": "vlines"}, "transform": [{"filter": "datum.c === 'H'"}],
    "mark": {"type": "rule", "strokeDash": [4, 3], "strokeWidth": 1.5, "color": "black"},
    "encoding": {"x": {"field": "t", "type": "quantitative", "scale": {"domain": [0, 20], "nice": false}, "axis": {"orient": "top", "values": [0,1,2,3,4,5,6,7,8,9,10,11,12,13,14,15,16,17,18,19,20], "labels": false, "title": null, "tickSize": {"condition": {"test": "datum.value % 2 === 0", "value": -7}, "value": -4}}}}},
   {"data": {"name": "arrows"}, "transform": [{"filter": "datum.p === 'HD'"}],
    "mark": {"type": "rule", "strokeWidth": 1.2, "color": "black"},
    "encoding": {"x": {"field": "t", "type": "quantitative", "scale": {"domain": [0, 20], "nice": false}, "axis": null},
     "y": {"field": "v1", "type": "quantitative", "scale": {"domain": [0, 4.54], "nice": false, "zero": false}, "axis": {"orient": "right", "values": [0,0.5,1,1.5,2,2.5,3,3.5,4,4.5], "labels": false, "title": null, "tickSize": {"condition": {"test": "datum.value % 1 === 0", "value": -7}, "value": -4}}},
     "y2": {"field": "v2"}}},
   {"data": {"name": "arrows"}, "transform": [{"filter": "datum.p === 'HD'"}],
    "mark": {"type": "point", "filled": false, "color": "black", "strokeWidth": 1.2, "size": 196, "opacity": 1},
    "encoding": {"x": {"field": "t", "type": "quantitative", "scale": {"domain": [0, 20], "nice": false}, "axis": null},
     "y": {"field": "v2", "type": "quantitative", "scale": {"domain": [0, 4.54], "nice": false, "zero": false}, "axis": null},
     "shape": {"field": "dir", "type": "nominal", "scale": {"domain": ["up","down"], "range": ["M-0.55,2L0,0L0.55,2", "M-0.55,-2L0,0L0.55,-2"]}, "legend": null}}}
  ],
  "resolve": {"axis": {"x": "independent", "y": "independent"}}
 },
 {
  "width": 381, "height": 193,
  "layer": [
   {"data": {"name": "curves"}, "transform": [{"filter": "datum.p === 'LD'"}],
    "mark": {"type": "line", "strokeWidth": 1.5, "clip": true},
    "encoding": {
     "x": {"field": "t", "type": "quantitative", "scale": {"domain": [0, 20], "nice": false}, "axis": {"orient": "bottom", "values": [0,1,2,3,4,5,6,7,8,9,10,11,12,13,14,15,16,17,18,19,20], "labelExpr": "datum.value % 2 === 0 ? '' + datum.value : ''", "labelPadding": 25, "title": "time [min]", "titleFontSize": 17, "titleColor": "black", "titlePadding": 7, "tickSize": {"condition": {"test": "datum.value % 2 === 0", "value": -7}, "value": -4}}},
     "y": {"field": "v", "type": "quantitative", "scale": {"domain": [0, 3.01], "nice": false, "zero": false}, "axis": {"orient": "left", "values": [0,0.5,1,1.5,2,2.5], "labelExpr": "datum.value % 1 === 0 ? '' + datum.value : ''", "labelPadding": 20, "title": "ΔD (10⁻⁶)", "titleColor": "#ff2a2a", "titleX": -62, "titleBaseline": "middle", "tickSize": {"condition": {"test": "datum.value % 1 === 0", "value": -7}, "value": -4}}},
     "color": {"field": "s", "type": "nominal", "scale": {"domain": ["f1","f2","f3","D1","D2","D3"], "range": ["#22d3d3","#1616e8","#16168a","#d8174b","#ff5a14","#ffcf00"]}, "legend": null}
    }},
   {"data": {"name": "vlines"}, "transform": [{"filter": "datum.c === 'L'"}],
    "mark": {"type": "rule", "strokeDash": [4, 3], "strokeWidth": 1.5, "color": "black"},
    "encoding": {"x": {"field": "t", "type": "quantitative", "scale": {"domain": [0, 20], "nice": false}, "axis": {"orient": "top", "values": [0,1,2,3,4,5,6,7,8,9,10,11,12,13,14,15,16,17,18,19,20], "labels": false, "title": null, "tickSize": {"condition": {"test": "datum.value % 2 === 0", "value": -7}, "value": -4}}}}},
   {"data": {"name": "arrows"}, "transform": [{"filter": "datum.p === 'LD'"}],
    "mark": {"type": "rule", "strokeWidth": 1.2, "color": "black"},
    "encoding": {"x": {"field": "t", "type": "quantitative", "scale": {"domain": [0, 20], "nice": false}, "axis": null},
     "y": {"field": "v1", "type": "quantitative", "scale": {"domain": [0, 3.01], "nice": false, "zero": false}, "axis": {"orient": "right", "values": [0,0.5,1,1.5,2,2.5], "labels": false, "title": null, "tickSize": {"condition": {"test": "datum.value % 1 === 0", "value": -7}, "value": -4}}},
     "y2": {"field": "v2"}}},
   {"data": {"name": "arrows"}, "transform": [{"filter": "datum.p === 'LD'"}],
    "mark": {"type": "point", "filled": false, "color": "black", "strokeWidth": 1.2, "size": 196, "opacity": 1},
    "encoding": {"x": {"field": "t", "type": "quantitative", "scale": {"domain": [0, 20], "nice": false}, "axis": null},
     "y": {"field": "v2", "type": "quantitative", "scale": {"domain": [0, 3.01], "nice": false, "zero": false}, "axis": null},
     "shape": {"field": "dir", "type": "nominal", "scale": {"domain": ["up","down"], "range": ["M-0.55,2L0,0L0.55,2", "M-0.55,-2L0,0L0.55,-2"]}, "legend": null}}}
  ],
  "resolve": {"axis": {"x": "independent", "y": "independent"}}
 }
]
}
